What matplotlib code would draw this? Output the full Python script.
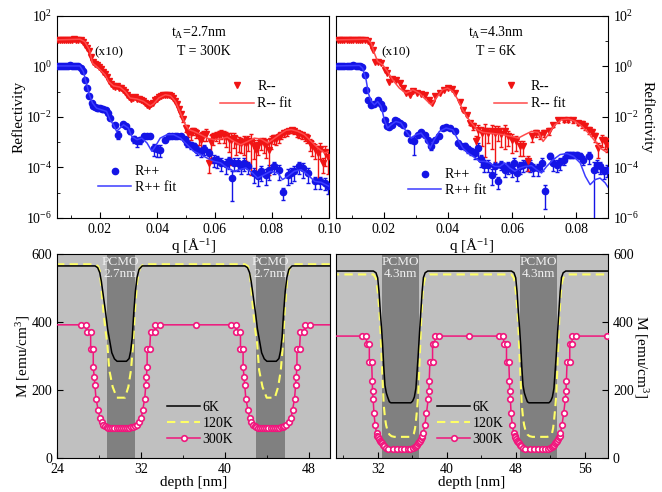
import numpy as np
import matplotlib
matplotlib.use("Agg")
import matplotlib.pyplot as plt
from matplotlib.ticker import FormatStrFormatter, NullFormatter

plt.rcParams['font.family'] = ['Liberation Serif', 'DejaVu Serif']
plt.rcParams['mathtext.fontset'] = 'custom'
plt.rcParams['mathtext.rm'] = 'Liberation Serif'
plt.rcParams['mathtext.it'] = 'Liberation Serif:italic'
plt.rcParams['mathtext.bf'] = 'Liberation Serif:bold'

# ---------------- reflectivity, t_A = 2.7 nm, 300 K (log10 values) ----------------
q_l_dn = [0.0055, 0.0062, 0.0069, 0.0076, 0.0083, 0.0090, 0.0097, 0.0104, 0.0111, 0.0118,
          0.0125, 0.0132, 0.0140, 0.0147, 0.0154, 0.0161, 0.0168, 0.0175, 0.0182, 0.0189,
          0.0196, 0.0203, 0.0210, 0.0217, 0.0224, 0.0231, 0.0238, 0.0245, 0.0252, 0.0259,
          0.0266, 0.0273, 0.0280, 0.0287, 0.0294, 0.0301, 0.0308, 0.0315, 0.0322, 0.0329,
          0.0336, 0.0343, 0.0350, 0.0357, 0.0364, 0.0371, 0.0378, 0.0385, 0.0392, 0.0399,
          0.0406, 0.0413, 0.0420, 0.0427, 0.0434, 0.0441, 0.0448, 0.0455, 0.0462, 0.0469,
          0.0476, 0.0483, 0.0490, 0.0499, 0.0508, 0.0517, 0.0526, 0.0535, 0.0544, 0.0552,
          0.0561, 0.0570, 0.0579, 0.0587, 0.0596, 0.0605, 0.0614, 0.0622, 0.0631, 0.0640,
          0.0649, 0.0657, 0.0666, 0.0675, 0.0684, 0.0692, 0.0701, 0.0710, 0.0718, 0.0727,
          0.0736, 0.0745, 0.0753, 0.0762, 0.0771, 0.0780, 0.0789, 0.0798, 0.0806, 0.0815,
          0.0824, 0.0833, 0.0842, 0.0851, 0.0860, 0.0869, 0.0878, 0.0887, 0.0896, 0.0905,
          0.0914, 0.0923, 0.0932, 0.0941, 0.0950, 0.0959, 0.0968, 0.0977, 0.0986, 0.0995]
log_l_dn = [1.04, 1.05, 1.03, 1.06, 1.04, 1.05, 1.06, 1.05, 1.07, 1.06,
            1.05, 1.04, 0.97, 0.86, 0.74, 0.62, 0.38, 0.18, 0.10, 0.04,
            -0.04, -0.12, -0.22, -0.30, -0.42, -0.58, -0.68, -0.76, -0.80, -0.79,
            -0.84, -0.86, -0.92, -1.02, -1.12, -1.22, -1.27, -1.26, -1.22, -1.28,
            -1.30, -1.34, -1.38, -1.46, -1.52, -1.55, -1.50, -1.44, -1.33, -1.27,
            -1.22, -1.17, -1.15, -1.12, -1.13, -1.15, -1.17, -1.24, -1.36, -1.50,
            -1.68, -1.88, -2.10, -2.45, -2.62, -2.65, -2.55, -2.62, -2.80, -2.91,
            -2.72, -2.66, -3.83, -2.98, -2.81, -2.75, -2.72, -2.67, -2.72, -2.80,
            -2.88, -2.91, -2.85, -3.00, -2.98, -3.04, -3.00, -3.04, -2.94, -2.98,
            -3.15, -3.31, -3.12, -3.00, -3.04, -3.10, -3.31, -2.95, -2.85, -2.88,
            -2.80, -2.70, -2.62, -2.58, -2.55, -2.52, -2.56, -2.62, -2.68, -2.72,
            -2.78, -2.82, -3.05, -3.15, -3.28, -3.44, -3.25, -3.83, -3.40, -3.57]
err_l_dn = [0.0] * 40 + [
            0.05, 0.05, 0.05, 0.05, 0.05, 0.05, 0.05, 0.05, 0.05, 0.05,
            0.05, 0.05, 0.05, 0.05, 0.05, 0.05, 0.05, 0.05, 0.05, 0.1,
            0.1, 0.15, 0.2, 0.3, 0.3, 0.45, 0.3, 0.4, 0.5, 0.5,
            0.4, 0.5, 0.6, 0.85, 0.5, 0.4, 0.5, 0.4, 0.5, 0.6,
            0.7, 0.9, 0.6, 0.7, 0.6, 0.6, 0.7, 0.8, 0.6, 0.95,
            0.7, 0.9, 0.6, 0.5, 0.6, 0.7, 0.9, 0.5, 0.4, 0.4,
            0.4, 0.3, 0.3, 0.3, 0.2, 0.2, 0.2, 0.3, 0.3, 0.3,
            0.3, 0.4, 0.5, 0.6, 0.6, 0.9, 0.6, 0.6, 0.7, 0.8]
qf_l_dn = [0.005, 0.013, 0.0147, 0.0163, 0.0174, 0.0188, 0.020, 0.0218, 0.023, 0.0247,
           0.027, 0.0288, 0.0305, 0.0329, 0.0352, 0.0375, 0.0387, 0.0405, 0.0428, 0.0446,
           0.0463, 0.0481, 0.0498, 0.051, 0.0527, 0.0551, 0.0574, 0.0598, 0.0621, 0.0644,
           0.0668, 0.0691, 0.0715, 0.0738, 0.0761, 0.0785, 0.0802, 0.0826, 0.0849, 0.0867,
           0.089, 0.0913, 0.0937, 0.096, 0.0984, 0.1]
logf_l_dn = [1.05, 1.08, 0.98, 0.66, 0.13, 0.0, -0.13, -0.33, -0.6, -0.77,
             -0.82, -0.99, -1.25, -1.29, -1.38, -1.56, -1.48, -1.25, -1.12, -1.16,
             -1.38, -1.85, -2.31, -2.5, -2.57, -2.7, -2.84, -2.9, -2.87, -2.8,
             -2.97, -3.1, -2.97, -2.84, -2.87, -3.03, -2.9, -2.7, -2.53, -2.5,
             -2.57, -2.7, -2.97, -3.23, -3.43, -3.36]

q_l_up = [0.0055, 0.0062, 0.0069, 0.0076, 0.0083, 0.0090, 0.0097, 0.0104, 0.0111, 0.0118,
          0.0125, 0.0132, 0.0139, 0.0147, 0.0156, 0.0163, 0.0171, 0.0177, 0.0183, 0.0188,
          0.0194, 0.0200, 0.0206, 0.0212, 0.0221, 0.0229, 0.0235, 0.0253, 0.0264, 0.0280,
          0.0291, 0.0305, 0.0317, 0.0329, 0.0340, 0.0352, 0.0364, 0.0375, 0.0387, 0.0399,
          0.0410, 0.0428, 0.0440, 0.0451, 0.0460, 0.0469, 0.0481, 0.0495, 0.0504, 0.0516,
          0.0527, 0.0539, 0.0551, 0.0563, 0.0580, 0.0598, 0.0609, 0.0621, 0.0639, 0.0650,
          0.0660, 0.0668, 0.0680, 0.0691, 0.0703, 0.0715, 0.0738, 0.0750, 0.0761, 0.0779,
          0.0791, 0.0808, 0.0826, 0.0837, 0.0855, 0.0867, 0.0878, 0.0896, 0.0908, 0.0925,
          0.0949, 0.0966, 0.0984, 0.0996]
log_l_up = [0.02, 0.00, 0.02, 0.03, 0.01, 0.03, 0.04, 0.02, 0.03, 0.02,
            0.00, -0.06, -0.20, -0.53, -0.86, -1.19, -1.45, -1.58, -1.62, -1.65,
            -1.66, -1.65, -1.67, -1.69, -1.72, -1.85, -2.04, -2.31, -2.70, -2.27,
            -2.35, -2.57, -2.87, -2.97, -2.90, -2.77, -2.74, -2.74, -3.23, -3.27,
            -3.30, -2.90, -2.77, -2.74, -2.74, -2.74, -2.77, -2.87, -3.03, -3.10,
            -3.16, -3.30, -3.36, -3.27, -3.43, -3.69, -3.72, -3.82, -3.86, -3.76,
            -4.42, -3.82, -3.82, -3.96, -3.82, -3.96, -4.22, -4.35, -4.15, -4.28,
            -4.09, -3.96, -4.09, -4.98, -4.28, -4.22, -4.15, -3.96, -4.02, -4.22,
            -4.55, -4.55, -4.61, -4.75]
err_l_up = [0.0] * 26 + [
            0.1, 0.1, 0.35, 0.1,
            0.1, 0.2, 0.3, 0.4, 0.3, 0.2, 0.2, 0.2, 0.5, 0.5,
            0.5, 0.2, 0.2, 0.15, 0.15, 0.15, 0.2, 0.2, 0.3, 0.3,
            0.3, 0.4, 0.4, 0.4, 0.5, 0.5, 0.5, 0.5, 0.6, 0.5,
            0.88, 0.5, 0.5, 0.5, 0.5, 0.5, 0.6, 0.6, 0.6, 0.6,
            0.6, 0.5, 0.6, 0.5, 0.6, 0.6, 0.6, 0.5, 0.6, 0.6,
            0.5, 0.5, 0.5, 0.5]
qf_l_up = [0.005, 0.013, 0.0142, 0.0151, 0.0163, 0.0174, 0.0188, 0.0206, 0.0223, 0.0235,
           0.0247, 0.0258, 0.027, 0.0282, 0.0299, 0.0311, 0.0329, 0.0346, 0.0364, 0.0381,
           0.0393, 0.041, 0.0434, 0.0457, 0.0481, 0.0504, 0.0527, 0.0551, 0.0574, 0.0598,
           0.0621, 0.0644, 0.0668, 0.0685, 0.0709, 0.0732, 0.075, 0.0773, 0.0796, 0.082,
           0.0837, 0.0855, 0.0878, 0.0902, 0.0925, 0.0949, 0.0972, 0.1]
logf_l_up = [0.02, 0.02, -0.2, -0.6, -1.12, -1.45, -1.65, -1.72, -1.78, -2.11,
             -2.31, -2.57, -2.44, -2.31, -2.44, -2.77, -2.9, -2.84, -3.03, -3.36,
             -3.17, -2.84, -2.7, -2.7, -2.84, -3.1, -3.36, -3.49, -3.63, -3.76,
             -3.82, -4.02, -4.15, -4.09, -4.02, -4.22, -4.42, -4.29, -4.15, -4.22,
             -4.48, -4.35, -4.15, -4.09, -4.29, -4.55, -4.59, -4.75]

# ---------------- reflectivity, t_A = 4.3 nm, 6 K (log10 values) ----------------
q_r_dn = [0.0055, 0.0062, 0.0069, 0.0076, 0.0083, 0.0090, 0.0097, 0.0104, 0.0111, 0.0118,
          0.0125, 0.0132, 0.0139, 0.0149, 0.0158, 0.0165, 0.0172, 0.0181, 0.0191, 0.0202,
          0.0210, 0.0217, 0.0226, 0.0238, 0.0249, 0.0259, 0.0269, 0.0280, 0.0290, 0.0304,
          0.0316, 0.0329, 0.0339, 0.0350, 0.0360, 0.0374, 0.0388, 0.0400, 0.0411, 0.0423,
          0.0437, 0.0447, 0.0458, 0.0468, 0.0478, 0.0486, 0.0494, 0.0507, 0.0517, 0.0525,
          0.0536, 0.0548, 0.0557, 0.0567, 0.0578, 0.0588, 0.0599, 0.0611, 0.0625, 0.0635,
          0.0651, 0.0661, 0.0674, 0.0687, 0.0701, 0.0714, 0.0729, 0.0745, 0.0761, 0.0776,
          0.0792, 0.0805, 0.0818, 0.0828, 0.0839, 0.0849, 0.0860, 0.0870, 0.0881, 0.0889,
          0.0896]
log_r_dn = [1.04, 1.05, 1.04, 1.05, 1.05, 1.04, 1.06, 1.05, 1.06, 1.05,
            1.06, 1.05, 1.04, 1.02, 0.85, 0.66, 0.19, 0.16, 0.13, -0.14,
            -0.24, -0.60, -0.50, -0.53, -0.66, -0.86, -1.06, -1.12, -0.99, -1.06,
            -1.08, -1.12, -1.32, -1.45, -1.19, -1.06, -0.92, -0.86, -0.90, -1.06,
            -1.39, -1.72, -1.91, -2.24, -2.37, -2.97, -2.51, -2.64, -2.57, -2.64,
            -2.57, -2.64, -2.55, -2.68, -2.57, -2.77, -2.90, -2.97, -3.16, -3.16,
            -3.76, -2.77, -2.64, -2.70, -2.64, -2.57, -2.31, -2.14, -2.11, -2.11,
            -2.14, -2.24, -2.27, -2.37, -2.51, -2.61, -2.77, -3.23, -2.90, -2.97,
            -3.10]
err_r_dn = [0.0] * 40 + [
            0.05, 0.1, 0.1, 0.2, 0.3, 0.6, 0.5, 0.7, 0.9, 0.6,
            0.8, 0.95, 0.6, 0.7, 0.8, 0.6, 0.7, 0.6, 0.6, 0.6,
            0.6, 0.4, 0.3, 0.3, 0.3, 0.3, 0.2, 0.2, 0.2, 0.2,
            0.2, 0.2, 0.3, 0.3, 0.3, 0.3, 0.4, 0.6, 0.5, 0.5,
            0.5]
qf_r_dn = [0.005, 0.0149, 0.016, 0.017, 0.018, 0.0196, 0.0211, 0.0227, 0.0248, 0.0269,
           0.029, 0.031, 0.0331, 0.0347, 0.0363, 0.0383, 0.0399, 0.0415, 0.0431, 0.0446,
           0.0462, 0.0478, 0.0493, 0.0509, 0.053, 0.0551, 0.0572, 0.0598, 0.0619, 0.064,
           0.0661, 0.0682, 0.0697, 0.0713, 0.0734, 0.0755, 0.0776, 0.0797, 0.0818, 0.0839,
           0.086, 0.0875, 0.0891, 0.0905]
logf_r_dn = [1.05, 1.08, 0.92, 0.52, 0.2, 0.06, -0.2, -0.53, -0.86, -1.06,
             -0.92, -1.06, -1.32, -1.52, -1.25, -0.92, -0.86, -0.99, -1.32, -1.72,
             -2.05, -2.31, -2.51, -2.61, -2.64, -2.67, -2.7, -2.77, -2.84, -2.7,
             -2.57, -2.61, -2.97, -2.7, -2.31, -2.11, -2.08, -2.17, -2.37, -2.64,
             -2.97, -3.23, -3.36, -3.3]

q_r_up = [0.0055, 0.0062, 0.0069, 0.0076, 0.0083, 0.0090, 0.0097, 0.0104, 0.0111, 0.0118,
          0.0125, 0.0132, 0.0139, 0.0144, 0.0151, 0.0160, 0.0170, 0.0181, 0.0189, 0.0196,
          0.0202, 0.0210, 0.0217, 0.0226, 0.0233, 0.0241, 0.0249, 0.0259, 0.0273, 0.0285,
          0.0293, 0.0306, 0.0316, 0.0329, 0.0337, 0.0348, 0.0358, 0.0371, 0.0384, 0.0395,
          0.0405, 0.0421, 0.0431, 0.0442, 0.0452, 0.0463, 0.0473, 0.0484, 0.0494, 0.0502,
          0.0513, 0.0525, 0.0536, 0.0546, 0.0557, 0.0567, 0.0578, 0.0588, 0.0599, 0.0607,
          0.0614, 0.0625, 0.0635, 0.0646, 0.0656, 0.0667, 0.0682, 0.0693, 0.0703, 0.0719,
          0.0729, 0.0740, 0.0750, 0.0761, 0.0771, 0.0781, 0.0792, 0.0802, 0.0813, 0.0823,
          0.0839, 0.0855, 0.0865, 0.0875, 0.0886, 0.0896]
log_r_up = [0.00, 0.01, 0.00, 0.02, 0.01, 0.03, 0.02, 0.04, 0.02, 0.03,
            0.00, -0.02, -0.33, -0.92, -1.32, -1.52, -1.48, -1.32, -1.48, -1.65,
            -2.11, -2.37, -2.41, -2.31, -2.14, -2.18, -2.24, -2.31, -2.64, -2.90,
            -2.97, -2.70, -2.61, -2.70, -2.90, -3.16, -2.90, -2.77, -2.44, -2.41,
            -2.44, -2.55, -3.03, -3.14, -3.14, -3.27, -3.36, -3.43, -3.23, -3.67,
            -3.89, -3.89, -4.28, -3.96, -4.55, -3.89, -4.09, -3.96, -4.09, -3.82,
            -4.22, -3.96, -3.89, -3.82, -3.89, -4.02, -4.02, -3.82, -4.94, -3.53,
            -3.82, -3.89, -3.80, -3.69, -3.49, -3.49, -3.49, -3.49, -3.53, -3.69,
            -3.56, -4.09, -3.89, -3.96, -4.15, -4.09]
err_r_up = [0.0] * 28 + [
            0.1, 0.2,
            0.7, 0.1, 0.1, 0.1, 0.2, 0.3, 0.2, 0.1, 0.1, 0.1,
            0.1, 0.1, 0.2, 0.2, 0.3, 0.3, 0.3, 0.4, 0.6, 0.5,
            0.5, 0.5, 0.6, 0.5, 0.5, 0.4, 0.5, 0.5, 0.5, 0.5,
            0.5, 0.5, 0.5, 0.5, 0.5, 0.5, 0.5, 0.5, 0.8, 0.3,
            0.5, 0.5, 0.5, 0.4, 0.3, 0.3, 0.3, 0.3, 0.3, 0.4,
            0.5, 0.999, 0.5, 0.5, 0.5, 0.5]
qf_r_up = [0.005, 0.0123, 0.0133, 0.0144, 0.0151, 0.016, 0.017, 0.018, 0.0191, 0.0201,
           0.0211, 0.0222, 0.0237, 0.0253, 0.0269, 0.0285, 0.030, 0.0316, 0.0331, 0.0344,
           0.0357, 0.0373, 0.0394, 0.0415, 0.0431, 0.0446, 0.0462, 0.0478, 0.0499, 0.0514,
           0.053, 0.0546, 0.0562, 0.0577, 0.0593, 0.0609, 0.0625, 0.064, 0.0661, 0.0677,
           0.0692, 0.0708, 0.0729, 0.075, 0.0771, 0.0792, 0.0813, 0.0829, 0.0844, 0.086,
           0.0875, 0.0891, 0.0905]
logf_r_up = [0.02, 0.04, -0.07, -0.53, -1.06, -1.39, -1.52, -1.39, -1.58, -2.11,
             -2.44, -2.31, -2.18, -2.24, -2.57, -2.84, -2.7, -2.64, -2.9, -3.23,
             -2.9, -2.57, -2.44, -2.51, -2.9, -3.23, -3.43, -3.56, -3.76, -3.76,
             -3.82, -3.96, -3.96, -3.82, -4.02, -4.15, -4.02, -3.96, -3.93, -4.09,
             -4.22, -3.96, -3.69, -3.49, -3.45, -3.56, -3.82, -4.35, -4.68, -4.48,
             -4.42, -4.61, -4.88]

# ---------------- magnetization depth profiles ----------------
pcmo_l = [(28.7, 31.4), (43.0, 45.7)]
pcmo_r = [(32.5, 36.8), (48.5, 52.8)]

d6_l = [20, 27.6, 27.85, 28.05, 28.2, 28.4, 28.6, 28.8, 29.0, 29.2, 29.45, 29.7, 30.6, 30.85,
        31.0, 31.15, 31.3, 31.45, 31.6, 31.8, 32.1,
        41.9, 42.15, 42.35, 42.5, 42.7, 42.9, 43.1, 43.3, 43.5, 43.75, 44.0, 44.9, 45.15,
        45.3, 45.45, 45.6, 45.75, 45.9, 46.1, 46.4, 55]
m6_l = [565, 565, 560, 545, 520, 475, 430, 380, 345, 310, 292, 285, 285, 293,
        315, 355, 430, 490, 530, 555, 565,
        565, 560, 545, 520, 475, 430, 380, 345, 310, 292, 285, 285, 293,
        315, 355, 430, 490, 530, 555, 565, 565]
d120_l = [20, 27.6, 27.9, 28.05, 28.2, 28.4, 28.6, 28.77, 28.96, 29.28, 29.68, 30.46, 30.78,
          31.03, 31.24, 31.4, 31.5, 31.62, 31.87, 32.2,
          41.9, 42.2, 42.35, 42.5, 42.7, 42.9, 43.07, 43.26, 43.58, 43.98, 44.76, 45.08,
          45.33, 45.54, 45.7, 45.8, 45.92, 46.17, 46.5, 55]
m120_l = [570, 570, 564, 550, 500, 430, 375, 337, 259, 210, 178, 178, 210,
          259, 337, 430, 470, 519, 558, 570,
          570, 564, 550, 500, 430, 375, 337, 259, 210, 178, 178, 210,
          259, 337, 430, 470, 519, 558, 570, 570]
d300_l = [20,
          26.26, 26.73, 26.8, 27.18, 27.18, 27.43, 27.43, 27.52, 27.59, 27.69,
          27.9, 28.07, 28.23, 28.39, 28.55, 28.7, 28.85, 29.05, 29.25, 29.45,
          29.65, 29.85, 30.05, 30.25, 30.45, 30.65, 30.85, 31.05, 31.22, 31.38,
          31.56, 31.79, 32.0, 32.15, 32.34, 32.44, 32.5, 32.57, 32.57, 32.82,
          32.9, 33.28, 33.33, 33.81,
          37.2,
          40.56, 41.03, 41.1, 41.48, 41.48, 41.73, 41.73, 41.82, 41.89, 41.99,
          42.2, 42.37, 42.53, 42.69, 42.85, 43.0, 43.15, 43.35, 43.55, 43.75,
          43.95, 44.15, 44.35, 44.55, 44.75, 44.95, 45.15, 45.35, 45.52, 45.68,
          45.86, 46.09, 46.3, 46.45, 46.64, 46.74, 46.8, 46.87, 46.87, 47.12,
          47.2, 47.58, 47.63, 48.11,
          55]
m300_dip_l = [392, 392, 371, 371, 321, 321, 267, 240, 214, 175,
              142, 117, 106, 98, 94, 92, 90, 90, 90, 90,
              90, 90, 90, 90, 90, 90, 90, 91, 93, 95,
              98, 108, 117, 142, 175, 214, 240, 267, 321, 321,
              371, 371, 392, 392]
m300_l = [392] + m300_dip_l + [392] + m300_dip_l + [392]

d6_r = [25, 31.5, 31.8, 32.0, 32.15, 32.3, 32.45, 32.57, 32.7, 32.84, 33.0, 33.15, 33.35,
        33.53, 35.85, 36.05, 36.25, 36.43, 36.55, 36.7, 36.85, 37.0, 37.15, 37.3, 37.5, 37.8,
        47.5, 47.8, 48.0, 48.15, 48.3, 48.45, 48.57, 48.7, 48.84, 49.0, 49.15, 49.35, 49.53,
        51.85, 52.05, 52.25, 52.43, 52.55, 52.7, 52.85, 53.0, 53.15, 53.3, 53.5, 53.8, 62]
m6_r = [550, 550, 545, 530, 490, 431, 380, 333, 270, 215, 192, 180, 166,
        163, 163, 168, 180, 206, 250, 305, 370, 431, 490, 531, 545, 550,
        550, 545, 530, 490, 431, 380, 333, 270, 215, 192, 180, 166, 163,
        163, 168, 180, 206, 250, 305, 370, 431, 490, 531, 545, 550, 550]
d120_r = [25, 31.5, 31.8, 32.0, 32.2, 32.35, 32.47, 32.6, 32.7, 32.85, 32.97, 33.15, 33.35,
          33.6, 33.93, 35.67, 35.95, 36.2, 36.33, 36.43, 36.55, 36.7, 36.8, 36.93, 37.05,
          37.2, 37.35, 37.5, 37.75, 38.0,
          47.5, 47.8, 48.0, 48.2, 48.35, 48.47, 48.6, 48.7, 48.85, 48.97, 49.15, 49.35,
          49.6, 49.93, 51.67, 51.95, 52.2, 52.33, 52.43, 52.55, 52.7, 52.8, 52.93, 53.05,
          53.2, 53.35, 53.5, 53.75, 54.0, 62]
m120_r = [540, 540, 529, 490, 431, 360, 284, 210, 157, 118, 98, 80, 70,
          65, 63, 63, 66, 73, 88, 109, 140, 187, 250, 333, 410,
          480, 515, 530, 537, 540,
          540, 529, 490, 431, 360, 284, 210, 157, 118, 98, 80, 70,
          65, 63, 63, 66, 73, 88, 109, 140, 187, 250, 333, 410,
          480, 515, 530, 537, 540, 540]
d300_r = [20,
          30.15, 30.66, 30.73, 31.03, 31.03, 31.3, 31.37, 31.4, 31.48, 31.56,
          31.71, 31.87, 31.96, 32.06, 32.15, 32.25, 32.35, 32.45, 32.58, 32.72,
          32.95, 33.22, 33.72, 34.2, 34.65, 35.1, 35.54, 35.8, 36.04, 36.28,
          36.45, 36.57, 36.68, 36.79, 36.88, 36.98, 37.08, 37.18, 37.27, 37.46,
          37.65, 37.85, 37.93, 37.97, 38.05, 38.36, 38.36, 38.63, 38.63, 39.13,
          42.6,
          46.05, 46.56, 46.63, 46.93, 46.93, 47.2, 47.27, 47.3, 47.38, 47.46,
          47.61, 47.77, 47.86, 47.96, 48.05, 48.15, 48.25, 48.35, 48.48, 48.62,
          48.85, 49.12, 49.62, 50.1, 50.55, 51.0, 51.44, 51.7, 51.94, 52.18,
          52.35, 52.47, 52.58, 52.69, 52.78, 52.88, 52.98, 53.08, 53.17, 53.36,
          53.55, 53.75, 53.83, 53.87, 53.95, 54.26, 54.26, 54.53, 54.53, 55.03,
          58.55, 62]
m300_dip_r = [359, 359, 335, 335, 283, 283, 227, 199, 173, 132,
              97, 73, 66, 62, 57, 52, 48, 44, 40, 37,
              31, 26, 26, 26, 26, 26, 26, 28, 31, 34,
              37, 40, 44, 48, 52, 57, 62, 66, 73, 97,
              132, 173, 199, 227, 283, 283, 335, 335, 359, 359]
m300_r = [359] + m300_dip_r + [359] + m300_dip_r + [359, 359]

RED = '#f01414'
RED_FIT = '#ff4a4a'
BLUE = '#1414e6'
BLUE_FIT = '#3c3cff'
PINK = '#f0167c'

fig = plt.figure(figsize=(6.62, 4.92), dpi=100)
ax1 = fig.add_axes([0.0861, 0.557, 0.4113, 0.4106])
ax2 = fig.add_axes([0.5076, 0.557, 0.4109, 0.4106])
ax3 = fig.add_axes([0.0866, 0.0685, 0.4115, 0.4152])
ax4 = fig.add_axes([0.5076, 0.0685, 0.4109, 0.4152])


def refl(ax, qd, ld, ed, qfd, lfd, qu, lu, eu, qfu, lfu):
    qd, qu = np.array(qd), np.array(qu)
    rd, ru = 10 ** np.array(ld), 10 ** np.array(lu)
    ed, eu = np.array(ed), np.array(eu)
    md, mu = ed > 0, eu > 0
    ax.errorbar(qu[mu], ru[mu], yerr=ru[mu] * eu[mu], fmt='none', ecolor=BLUE,
                elinewidth=1, capsize=1.5, capthick=1, zorder=2)
    ax.errorbar(qd[md], rd[md], yerr=rd[md] * ed[md], fmt='none', ecolor=RED,
                elinewidth=1, capsize=1.5, capthick=1, zorder=2)
    hu, = ax.plot(qu, ru, 'o', color=BLUE, ms=4.5, mec=BLUE, zorder=3)
    hd, = ax.plot(qd, rd, 'v', color=RED, ms=5, mec=RED, zorder=3)
    hfu, = ax.plot(qfu, 10 ** np.array(lfu), '-', color=BLUE_FIT, lw=1.1, zorder=4)
    hfd, = ax.plot(qfd, 10 ** np.array(lfd), '-', color=RED_FIT, lw=1.1, zorder=4)
    ax.set_yscale('log')
    ax.set_ylim(1e-6, 1e2)
    ax.set_yticks([1e-6, 1e-4, 1e-2, 1e0, 1e2])
    ax.set_yticks([1e-5, 1e-3, 1e-1, 1e1], minor=True)
    ax.yaxis.set_minor_formatter(NullFormatter())
    ax.xaxis.set_major_formatter(FormatStrFormatter('%.2f'))
    ax.set_xlabel(r'q [Å$^{\mathregular{-1}}$]', fontsize=11, labelpad=0)
    ax.tick_params(which='both', direction='in', labelsize=10)
    ax.tick_params(which='major', length=4)
    ax.tick_params(which='minor', length=2)
    return hd, hfd, hu, hfu


h = refl(ax1, q_l_dn, log_l_dn, err_l_dn, qf_l_dn, logf_l_dn,
         q_l_up, log_l_up, err_l_up, qf_l_up, logf_l_up)
ax1.set_xlim(0.005, 0.1)
ax1.set_xticks([0.02, 0.04, 0.06, 0.08, 0.10])
ax1.set_xticks([0.01, 0.03, 0.05, 0.07, 0.09], minor=True)
ax1.set_ylabel('Reflectivity', fontsize=11, labelpad=0)
leg = ax1.legend([h[0], h[1]], ['R--', 'R-- fit'], loc='upper left', bbox_to_anchor=(0.60, 0.685),
                 frameon=False, fontsize=10, handlelength=2.4, handletextpad=0.25,
                 labelspacing=0.35, borderpad=0, borderaxespad=0, numpoints=1)
ax1.add_artist(leg)
ax1.legend([h[2], h[3]], ['R++', 'R++ fit'], loc='upper left', bbox_to_anchor=(0.151, 0.26),
           frameon=False, fontsize=10, handlelength=2.4, handletextpad=0.25,
           labelspacing=0.15, borderpad=0, borderaxespad=0, numpoints=1)
ax1.text(0.52, 0.915, r'$\mathregular{t_A}$=2.7nm', transform=ax1.transAxes, ha='center', va='center', fontsize=10)
ax1.text(0.54, 0.822, 'T = 300K', transform=ax1.transAxes, ha='center', va='center', fontsize=10)
ax1.text(0.19, 0.822, '(x10)', transform=ax1.transAxes, ha='center', va='center', fontsize=9.5)

h = refl(ax2, q_r_dn, log_r_dn, err_r_dn, qf_r_dn, logf_r_dn,
         q_r_up, log_r_up, err_r_up, qf_r_up, logf_r_up)
ax2.set_xlim(0.005, 0.09)
ax2.set_xticks([0.02, 0.04, 0.06, 0.08])
ax2.set_xticks([0.01, 0.03, 0.05, 0.07, 0.09], minor=True)
ax2.yaxis.tick_right()
ax2.yaxis.set_label_position('right')
ax2.set_ylabel('Reflectivity', fontsize=11, rotation=270, labelpad=11)
leg = ax2.legend([h[0], h[1]], ['R--', 'R-- fit'], loc='upper left', bbox_to_anchor=(0.581, 0.685),
                 frameon=False, fontsize=10, handlelength=2.4, handletextpad=0.25,
                 labelspacing=0.35, borderpad=0, borderaxespad=0, numpoints=1)
ax2.add_artist(leg)
ax2.legend([h[2], h[3]], ['R++', 'R++ fit'], loc='upper left', bbox_to_anchor=(0.265, 0.245),
           frameon=False, fontsize=10, handlelength=2.4, handletextpad=0.25,
           labelspacing=0.15, borderpad=0, borderaxespad=0, numpoints=1)
ax2.text(0.588, 0.915, r'$\mathregular{t_A}$=4.3nm', transform=ax2.transAxes, ha='center', va='center', fontsize=10)
ax2.text(0.588, 0.822, 'T = 6K', transform=ax2.transAxes, ha='center', va='center', fontsize=10)
ax2.text(0.22, 0.822, '(x10)', transform=ax2.transAxes, ha='center', va='center', fontsize=9.5)


def profile(ax, bands, label, d6, m6, d120, m120, d300, m300):
    ax.set_facecolor('#c0c0c0')
    for a, b in bands:
        ax.axvspan(a, b, color='#808080', lw=0, zorder=0)
        ax.text((a + b) / 2, 559, 'PCMO\n' + label, ha='center', va='center',
                color='#f0f0f0', fontsize=9.5, linespacing=0.95, zorder=1)
    l1, = ax.plot(d6, m6, '-', color='black', lw=1.1, zorder=3)
    l2, = ax.plot(d120, m120, '--', color='#ffff66', lw=1.5, dashes=(4, 2.5), zorder=2)
    l3, = ax.plot(d300, m300, '-', color=PINK, lw=1.1, marker='o', ms=4,
                  mfc='white', mec=PINK, mew=1.2, zorder=4)
    ax.set_ylim(0, 600)
    ax.set_yticks([0, 200, 400, 600])
    ax.set_xlabel('depth [nm]', fontsize=11, labelpad=0)
    ax.tick_params(which='both', direction='in', labelsize=10)
    ax.tick_params(which='major', length=4)
    ax.tick_params(which='minor', length=2)
    return l1, l2, l3


ls = profile(ax3, pcmo_l, '2.7nm', d6_l, m6_l, d120_l, m120_l, d300_l, m300_l)
ax3.set_xlim(24, 50)
ax3.set_xticks([24, 32, 40, 48])
ax3.set_xticks([28, 36, 44], minor=True)
ax3.set_ylabel(r'M [emu/cm$^{\mathregular{3}}$]', fontsize=11, labelpad=0)
ax3.legend(ls, ['6K', '120K', '300K'], loc='upper left', bbox_to_anchor=(0.402, 0.28),
           frameon=False, fontsize=10, handlelength=2.4, handletextpad=0.15,
           labelspacing=0.2, borderpad=0, borderaxespad=0, numpoints=1)

ls = profile(ax4, pcmo_r, '4.3nm', d6_r, m6_r, d120_r, m120_r, d300_r, m300_r)
ax4.set_xlim(27.17, 58.7)
ax4.set_xticks([32, 40, 48, 56])
ax4.set_xticks([28, 36, 44, 52], minor=True)
ax4.yaxis.tick_right()
ax4.yaxis.set_label_position('right')
ax4.set_ylabel(r'M [emu/cm$^{\mathregular{3}}$]', fontsize=11, rotation=270, labelpad=12)
ax4.legend(ls, ['6K', '120K', '300K'], loc='upper left', bbox_to_anchor=(0.371, 0.28),
           frameon=False, fontsize=10, handlelength=2.4, handletextpad=0.15,
           labelspacing=0.2, borderpad=0, borderaxespad=0, numpoints=1)

fig.savefig('out.png', dpi=100)
